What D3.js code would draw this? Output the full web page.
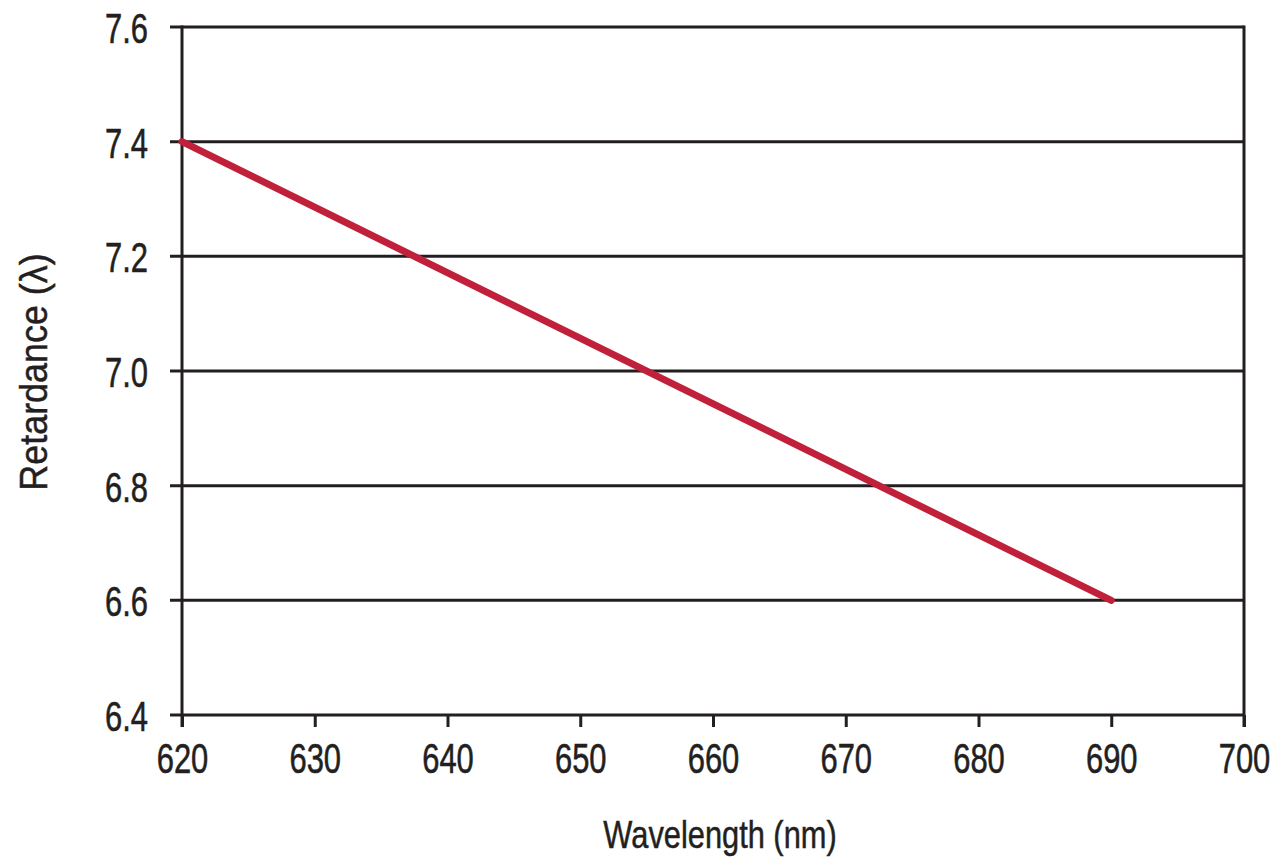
<!DOCTYPE html>
<html><head><meta charset="utf-8">
<script src="https://cdn.jsdelivr.net/npm/d3@7"></script>
<style>
html,body{margin:0;padding:0;background:#fff;}
svg text{font-family:"Liberation Sans",Arial,sans-serif;fill:#231f20;}
</style></head>
<body>
<svg id="chart" width="1282" height="866"></svg>
<script>
const wavelengths = [620, 690];
const retardance = [7.40, 6.60];
const xTicks = [620, 630, 640, 650, 660, 670, 680, 690, 700];
const yTicks = [6.4, 6.6, 6.8, 7.0, 7.2, 7.4, 7.6];
const xTitle = "Wavelength (nm)";
const yTitle = "Retardance (\u03bb)";

const svg = d3.select("#chart");
const pLeft = 182, pRight = 1244, pTop = 27, pBottom = 715;
const x = d3.scaleLinear().domain([620, 700]).range([pLeft, pRight]);
const y = d3.scaleLinear().domain([6.4, 7.6]).range([pBottom, pTop]);
const ink = "#231f20";
const fontFam = '"Liberation Sans",Arial,sans-serif';
const sx = 0.72;

// horizontal gridlines (extend left as ticks)
svg.append("g").selectAll("line").data(yTicks).join("line")
  .attr("x1", pLeft - 12).attr("x2", pRight)
  .attr("y1", d => y(d)).attr("y2", d => y(d))
  .attr("stroke", ink).attr("stroke-width", 3);

// left axis line and right border
svg.append("line").attr("x1", pLeft).attr("x2", pLeft).attr("y1", pTop - 1.5).attr("y2", pBottom + 12)
  .attr("stroke", ink).attr("stroke-width", 3);
svg.append("line").attr("x1", pRight).attr("x2", pRight).attr("y1", pTop - 1.5).attr("y2", pBottom + 12)
  .attr("stroke", ink).attr("stroke-width", 3);

// x axis
const xAxis = d3.axisBottom(x).tickValues(xTicks).tickSize(12).tickPadding(15).tickFormat(d3.format("d"));
const gx = svg.append("g").attr("transform", `translate(0,${pBottom})`).call(xAxis);
gx.select(".domain").remove();
gx.selectAll(".tick line").attr("stroke", ink).attr("stroke-width", 3);
gx.selectAll(".tick text").attr("font-size", 43).attr("fill", ink)
  .attr("font-family", fontFam).attr("dy", "0.72em")
  .attr("stroke", ink).attr("stroke-width", 0.6)
  .attr("transform", `scale(${sx},1)`);

// y axis
const yAxis = d3.axisLeft(y).tickValues(yTicks).tickSize(0).tickPadding(34).tickFormat(d3.format(".1f"));
const gy = svg.append("g").attr("transform", `translate(${pLeft},0)`).call(yAxis);
gy.select(".domain").remove();
gy.selectAll(".tick text").attr("font-size", 43).attr("fill", ink)
  .attr("font-family", fontFam).attr("dy", "0.36em")
  .attr("stroke", ink).attr("stroke-width", 0.6)
  .attr("x", -34 / sx)
  .attr("transform", `scale(${sx},1)`);

// data line
const line = d3.line().x((d, i) => x(wavelengths[i])).y(d => y(d));
svg.append("path").datum(retardance).attr("d", line)
  .attr("fill", "none").attr("stroke", "#c1203b").attr("stroke-width", 7)
  .attr("stroke-linecap", "round");

// titles
svg.append("text").attr("transform", `translate(720,848) scale(0.79,1)`).attr("text-anchor", "middle")
  .attr("font-size", 39).attr("stroke", ink).attr("stroke-width", 0.5).text(xTitle);
svg.append("text").attr("transform", "translate(47,372) rotate(-90) scale(0.92,1)").attr("text-anchor", "middle")
  .attr("font-size", 39).attr("stroke", ink).attr("stroke-width", 0.5).text(yTitle);
</script>
</body></html>
